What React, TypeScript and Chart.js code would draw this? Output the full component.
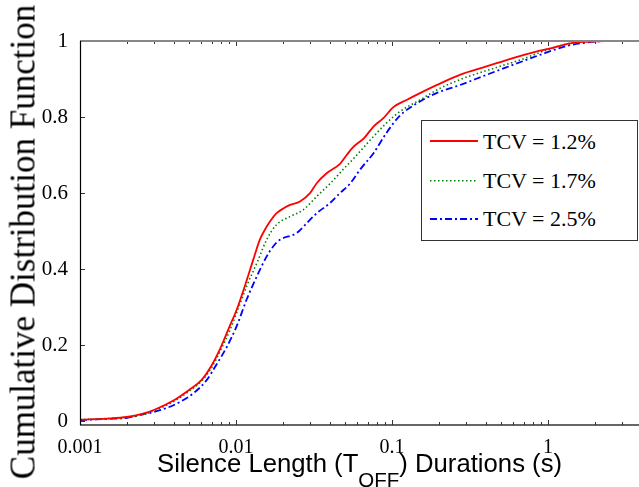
import React, { useEffect, useRef } from 'react';
import { Chart, registerables } from 'chart.js';

Chart.register(...registerables);

// ---- data ----
const redX = [0.001, 0.0015, 0.002, 0.0025, 0.003, 0.004, 0.005, 0.006, 0.007, 0.008, 0.009, 0.0101, 0.0117, 0.0129, 0.0142, 0.015, 0.0165, 0.0182, 0.0202, 0.0222, 0.0257, 0.0298, 0.0329, 0.0381, 0.0464, 0.0512, 0.0567, 0.066, 0.0761, 0.088, 0.102, 0.124, 0.151, 0.193, 0.272, 0.403, 0.595, 0.84, 1.0, 1.39, 1.77, 2.3, 3.83];
const redY = [0.004, 0.007, 0.011, 0.019, 0.03, 0.055, 0.082, 0.108, 0.148, 0.195, 0.245, 0.293, 0.37, 0.425, 0.477, 0.497, 0.525, 0.547, 0.56, 0.569, 0.578, 0.6, 0.626, 0.652, 0.677, 0.7, 0.722, 0.744, 0.775, 0.797, 0.826, 0.845, 0.863, 0.884, 0.911, 0.933, 0.955, 0.972, 0.979, 0.994, 0.998, 1.0, 1.0];

const greenX = [0.001, 0.0015, 0.002, 0.0025, 0.003, 0.004, 0.005, 0.006, 0.007, 0.008, 0.00917, 0.0101, 0.0117, 0.0139, 0.0157, 0.0182, 0.0222, 0.027, 0.0329, 0.0401, 0.0488, 0.0565, 0.0622, 0.0761, 0.092, 0.112, 0.151, 0.204, 0.287, 0.447, 0.66, 0.98, 1.45, 2.0, 3.83];
const greenY = [0.004, 0.007, 0.01, 0.017, 0.028, 0.052, 0.079, 0.105, 0.142, 0.188, 0.241, 0.285, 0.355, 0.425, 0.477, 0.517, 0.538, 0.556, 0.591, 0.625, 0.663, 0.69, 0.709, 0.749, 0.784, 0.814, 0.845, 0.876, 0.902, 0.928, 0.95, 0.976, 0.996, 1.0, 1.0];

const blueX = [0.001, 0.0015, 0.002, 0.00242, 0.00326, 0.00416, 0.00532, 0.00648, 0.00752, 0.00872, 0.0101, 0.0117, 0.0136, 0.0157, 0.0175, 0.0191, 0.0245, 0.0284, 0.0329, 0.0401, 0.0464, 0.0538, 0.0622, 0.0761, 0.092, 0.112, 0.144, 0.193, 0.272, 0.403, 0.595, 0.88, 1.32, 1.77, 2.5, 3.83];
const blueY = [0.003, 0.006, 0.009, 0.016, 0.029, 0.046, 0.073, 0.108, 0.15, 0.195, 0.25, 0.32, 0.381, 0.433, 0.462, 0.477, 0.495, 0.521, 0.547, 0.574, 0.6, 0.625, 0.661, 0.705, 0.758, 0.803, 0.836, 0.863, 0.884, 0.911, 0.937, 0.963, 0.987, 0.996, 1.0, 1.0];

const seriesLabels = ['TCV = 1.2%', 'TCV = 1.7%', 'TCV = 2.5%'];
const seriesColors = ['#ff0000', '#008000', '#0000ff'];

const xTickValues = [0.001, 0.01, 0.1, 1];
const xTickLabels = ['0.001', '0.01', '0.1', '1'];
const yTickValues = [0, 0.2, 0.4, 0.6, 0.8, 1];
const yTickLabels = ['0', '0.2', '0.4', '0.6', '0.8', '1'];

const X_MIN = 0.001;
const X_MAX = 3.83;
const Y_MIN = -0.01;
const Y_MAX = 1;

const toPoints = (xs: number[], ys: number[]) => xs.map((x, i) => ({ x, y: ys[i] }));

const isDecade = (v: number) => {
  const l = Math.log10(v);
  return Math.abs(l - Math.round(l)) < 1e-6;
};

const framePlugin = {
  id: 'frameTicks',
  afterDatasetsDraw(chart: any) {
    const { ctx, chartArea } = chart;
    const { left, right, top, bottom } = chartArea;
    const xs = chart.scales.x;
    const ys = chart.scales.y;
    ctx.save();
    ctx.strokeStyle = '#333';
    ctx.lineWidth = 1;
    xs.ticks.forEach((t: any) => {
      if (t.value >= X_MAX) return;
      const px = Math.round(xs.getPixelForValue(t.value)) + 0.5;
      const len = isDecade(t.value) ? 5 : 3;
      ctx.beginPath();
      ctx.moveTo(px, bottom);
      ctx.lineTo(px, bottom - len);
      ctx.moveTo(px, top);
      ctx.lineTo(px, top + len);
      ctx.stroke();
    });
    ys.ticks.forEach((t: any) => {
      const py = Math.round(ys.getPixelForValue(t.value)) + 0.5;
      ctx.beginPath();
      ctx.moveTo(left, py);
      ctx.lineTo(left + 5, py);
      ctx.stroke();
    });
    // frame
    ctx.strokeStyle = '#888';
    ctx.lineWidth = 2;
    ctx.beginPath();
    ctx.moveTo(left, top);
    ctx.lineTo(right, top);
    ctx.stroke();
    ctx.strokeStyle = '#333';
    ctx.lineWidth = 1.5;
    ctx.beginPath();
    ctx.moveTo(left, bottom);
    ctx.lineTo(right, bottom);
    ctx.stroke();
    ctx.strokeStyle = '#000';
    ctx.lineWidth = 1.2;
    ctx.beginPath();
    ctx.moveTo(left + 0.5, top);
    ctx.lineTo(left + 0.5, bottom);
    ctx.stroke();
    ctx.restore();
  },
};

const bgPlugin = {
  id: 'bg',
  beforeDraw(chart: any) {
    const { ctx, width, height } = chart;
    ctx.save();
    ctx.fillStyle = '#ffffff';
    ctx.fillRect(0, 0, width, height);
    ctx.restore();
  },
};

export default function App() {
  const canvasRef = useRef<HTMLCanvasElement | null>(null);

  useEffect(() => {
    document.body.style.margin = '0';
    document.body.style.overflow = 'hidden';
    const canvas = canvasRef.current;
    if (!canvas) return;
    const chart = new Chart(canvas, {
      type: 'line',
      data: {
        datasets: [
          {
            label: seriesLabels[0],
            data: toPoints(redX, redY),
            borderColor: seriesColors[0],
            borderWidth: 1.8,
            pointRadius: 0,
            fill: false,
            cubicInterpolationMode: 'monotone',
          },
          {
            label: seriesLabels[1],
            data: toPoints(greenX, greenY),
            borderColor: seriesColors[1],
            borderWidth: 1.6,
            borderDash: [1.5, 2.5],
            pointRadius: 0,
            fill: false,
            cubicInterpolationMode: 'monotone',
          },
          {
            label: seriesLabels[2],
            data: toPoints(blueX, blueY),
            borderColor: seriesColors[2],
            borderWidth: 1.8,
            borderDash: [7, 3, 2, 3],
            pointRadius: 0,
            fill: false,
            cubicInterpolationMode: 'monotone',
          },
        ],
      },
      options: {
        animation: false,
        responsive: false,
        events: [],
        layout: { padding: { top: 41, right: 0, left: 0, bottom: 0 } },
        plugins: {
          legend: { display: false },
          tooltip: { enabled: false },
          title: { display: false },
        },
        scales: {
          x: {
            type: 'logarithmic',
            min: X_MIN,
            max: X_MAX,
            afterBuildTicks: (scale: any) => {
              const ticks: any[] = [];
              for (let e = -3; e <= 0; e++) {
                for (let m = 1; m <= 9; m++) {
                  const v = m * Math.pow(10, e);
                  if (v <= X_MAX) ticks.push({ value: v });
                }
              }
              scale.ticks = ticks;
            },
            afterFit: (scale: any) => {
              scale.height = 62;
            },
            grid: { display: false },
            border: { display: false },
            ticks: {
              autoSkip: false,
              maxRotation: 0,
              minRotation: 0,
              padding: 3,
              color: '#000',
              font: { family: "'Liberation Serif', 'Times New Roman', serif", size: 20 },
              callback: (value: any) => {
                const v = Number(value);
                const idx = xTickValues.findIndex((t) => Math.abs(t - v) / t < 1e-6);
                return idx >= 0 ? xTickLabels[idx] : '';
              },
            },
          },
          y: {
            type: 'linear',
            min: Y_MIN,
            max: Y_MAX,
            afterBuildTicks: (scale: any) => {
              scale.ticks = yTickValues.map((v) => ({ value: v }));
            },
            afterFit: (scale: any) => {
              scale.width = 80;
            },
            grid: { display: false },
            border: { display: false },
            ticks: {
              padding: 4,
              color: '#000',
              font: { family: "'Liberation Serif', 'Times New Roman', serif", size: 21 },
              callback: (value: any) => {
                const v = Number(value);
                const idx = yTickValues.findIndex((t) => Math.abs(t - v) < 1e-9);
                return idx >= 0 ? yTickLabels[idx] : '';
              },
            },
          },
        },
      },
      plugins: [bgPlugin, framePlugin],
    } as any);
    return () => chart.destroy();
  }, []);

  const serif = "'Liberation Serif', 'Times New Roman', serif";
  const sans = "'Liberation Sans', Arial, sans-serif";
  const rowTextTops = [10.4, 48.9, 86.9];
  const rowLineYs = [20, 59.7, 98];
  const dashes = ['', '1.5 2.5', '7 3 2 3'];

  return (
    <div style={{ position: 'relative', width: 639, height: 487, overflow: 'hidden', background: '#fff' }}>
      <canvas ref={canvasRef} width={639} height={487} style={{ display: 'block' }} />
      {/* Y axis title */}
      <div
        style={{
          position: 'absolute',
          left: 23.3 - 243.5,
          top: 241.5 - 21,
          width: 487,
          height: 42,
          lineHeight: '42px',
          textAlign: 'center',
          fontFamily: serif,
          fontSize: 35,
          color: '#000',
          whiteSpace: 'nowrap',
          transform: 'rotate(-90deg)',
        }}
      >
        Cumulative Distribution Function
      </div>
      {/* X axis title */}
      <div
        style={{
          position: 'absolute',
          left: 157,
          top: 450,
          height: 26,
          lineHeight: '26px',
          fontFamily: sans,
          fontSize: 25.7,
          color: '#000',
          whiteSpace: 'nowrap',
        }}
      >
        Silence Length (T
        <span style={{ fontSize: 20.5, position: 'relative', top: 15 }}>OFF</span>
        ) Durations (s)
      </div>
      {/* Legend */}
      <div
        style={{
          position: 'absolute',
          left: 421,
          top: 120,
          width: 215,
          height: 119,
          border: '1px solid #333',
          background: '#fff',
        }}
      >
        <svg width={215} height={119} style={{ position: 'absolute', left: 0, top: 0 }}>
          {seriesLabels.map((_, i) => (
            <line
              key={i}
              x1={8}
              x2={56}
              y1={rowLineYs[i]}
              y2={rowLineYs[i]}
              stroke={seriesColors[i]}
              strokeWidth={i === 1 ? 1.5 : 1.8}
              strokeDasharray={dashes[i] || undefined}
            />
          ))}
        </svg>
        {seriesLabels.map((lab, i) => (
          <div
            key={i}
            style={{
              position: 'absolute',
              left: 61,
              top: rowTextTops[i],
              height: 22,
              lineHeight: '22px',
              fontFamily: serif,
              fontSize: 22,
              color: '#000',
              whiteSpace: 'nowrap',
            }}
          >
            {lab}
          </div>
        ))}
      </div>
    </div>
  );
}
